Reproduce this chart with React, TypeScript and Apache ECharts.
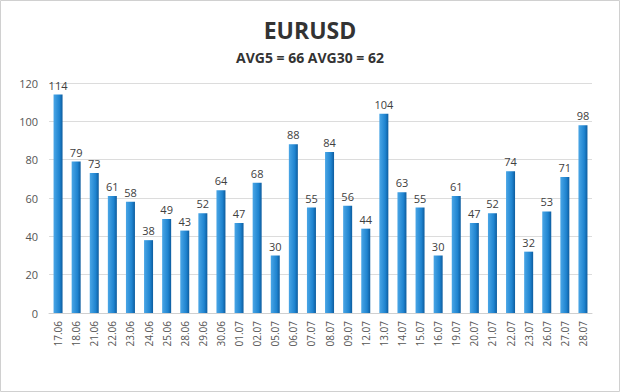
import React, { useEffect, useRef } from "react";
import * as echarts from "echarts";

const categories = ["17.06","18.06","21.06","22.06","23.06","24.06","25.06","28.06","29.06","30.06","01.07","02.07","05.07","06.07","07.07","08.07","09.07","12.07","13.07","14.07","15.07","16.07","19.07","20.07","21.07","22.07","23.07","26.07","27.07","28.07"];
const values = [114,79,73,61,58,38,49,43,52,64,47,68,30,88,55,84,56,44,104,63,55,30,61,47,52,74,32,53,71,98];
const titleText = "EURUSD";
const subtitleText = "AVG5 = 66 AVG30 = 62";

export default function App() {
  const ref = useRef<HTMLDivElement>(null);
  useEffect(() => {
    if (!ref.current) return;
    const chart = echarts.init(ref.current, null, { renderer: "svg" });
    chart.setOption({
      animation: false,
      backgroundColor: "#ffffff",
      title: {
        text: titleText,
        subtext: subtitleText,
        left: "center",
        top: 13,
        itemGap: 9,
        textStyle: { fontFamily: "Open Sans", fontSize: 23, fontWeight: "bold", color: "#333333" },
        subtextStyle: { fontFamily: "Open Sans", fontSize: 14, fontWeight: "bold", color: "#333333" },
      },
      graphic: [
        { type: "rect", shape: { x: 0.5, y: 0.5, width: 619, height: 391 }, style: { fill: "none", stroke: "#d0d0d0", lineWidth: 1 } },
      ],
      grid: { left: 49, right: 28, top: 83, bottom: 79 },
      xAxis: {
        type: "category",
        data: categories,
        axisTick: { show: false },
        axisLine: { lineStyle: { color: "#d0d0d0" } },
        axisLabel: { rotate: 90, interval: 0, fontFamily: "Open Sans", fontSize: 10, color: "#555555", margin: 8 },
      },
      yAxis: {
        type: "value",
        min: 0,
        max: 120,
        interval: 20,
        axisLabel: { fontFamily: "Open Sans", fontSize: 11, color: "#555555", margin: 11 },
        splitLine: { lineStyle: { color: "#dcdcdc" } },
        axisLine: { show: false },
        axisTick: { show: false },
      },
      series: [
        {
          type: "bar",
          data: values,
          barWidth: 9,
          itemStyle: {
            color: new echarts.graphic.LinearGradient(0, 0, 1, 0, [
              { offset: 0, color: "#4aa6e6" },
              { offset: 0.65, color: "#1f84d0" },
              { offset: 1, color: "#0d5c9e" },
            ]),
          },
          label: { show: true, position: "top", distance: 4, fontFamily: "Open Sans", fontSize: 11, color: "#404040" },
        },
      ],
    });
    return () => chart.dispose();
  }, []);
  return <div ref={ref} style={{ position: "fixed", left: 0, top: 0, width: 620, height: 392 }} />;
}
